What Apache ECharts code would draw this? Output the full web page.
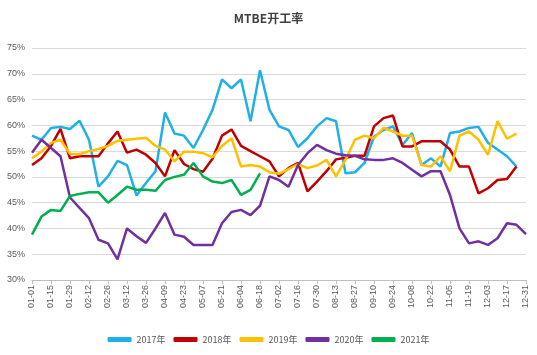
<!DOCTYPE html>
<html><head><meta charset="utf-8">
<script src="https://cdn.jsdelivr.net/npm/echarts@6/dist/echarts.min.js"></script>
<style>html,body{margin:0;padding:0;background:#fff}#c{width:537px;height:355px}</style>
</head><body><div id="c"></div>
<script>
const categories = ['01-01','01-08','01-15','01-22','01-29','02-05','02-12','02-19','02-26','03-05','03-12','03-19','03-26','04-02','04-09','04-16','04-23','04-30','05-07','05-14','05-21','05-28','06-04','06-11','06-18','06-25','07-02','07-09','07-16','07-23','07-30','08-06','08-13','08-20','08-27','09-03','09-10','09-17','09-24','10-01','10-08','10-15','10-22','10-29','11-05','11-12','11-19','11-26','12-03','12-10','12-17','12-24','12-31'];
const s2017 = [58.0,57.2,59.5,59.7,59.3,60.9,57.2,48.1,50.1,53.1,52.3,46.4,48.8,51.1,62.5,58.4,58.0,55.6,59.1,63.0,68.9,67.2,68.9,60.8,70.7,63.0,59.8,59.1,55.8,57.5,59.8,61.4,60.8,50.7,50.9,52.7,57.8,59.1,59.8,56.2,58.5,52.3,53.6,52.0,58.5,58.8,59.5,59.7,56.6,55.3,54.0,52.0];
const s2018 = [52.3,53.6,56.0,59.3,53.6,54.0,54.0,54.0,56.5,58.8,54.7,55.3,54.3,52.7,50.1,55.2,52.5,51.5,51.0,53.5,58.0,59.2,56.0,55.0,54.0,53.0,50.1,51.7,52.7,47.2,49.1,51.1,53.4,53.7,54.1,54.1,59.8,61.4,61.9,55.9,55.9,56.9,56.9,56.9,55.3,52.0,52.0,46.8,47.8,49.4,49.6,52.0];
const s2019 = [53.6,54.9,56.6,57.2,54.5,54.4,55.0,55.4,56.0,57.0,57.2,57.4,57.6,56.0,55.3,53.0,54.9,54.9,54.6,53.8,56.0,57.5,52.0,52.3,52.0,50.9,50.6,51.5,52.5,51.7,52.2,53.3,50.1,53.3,57.2,58.0,57.5,59.5,58.8,58.0,58.0,52.3,52.0,54.0,51.1,58.0,58.8,57.2,54.3,60.8,57.4,58.4];
const s2020 = [54.7,57.2,55.6,54.0,46.0,44.0,42.0,37.8,37.1,34.0,40.0,38.5,37.2,40.0,43.0,38.8,38.4,36.8,36.8,36.8,41.0,43.2,43.6,42.6,44.4,50.1,49.4,48.1,52.3,54.6,56.2,55.2,54.5,54.2,54.1,53.4,53.3,53.3,53.6,52.7,51.4,50.1,51.1,51.1,46.5,40.0,37.1,37.5,36.8,38.1,41.0,40.7,38.9];
const s2021 = [38.8,42.3,43.6,43.4,46.3,46.7,47.0,47.0,45.0,46.5,48.1,47.5,47.5,47.3,49.4,50.0,50.4,52.7,50.1,49.1,48.8,49.4,46.5,47.5,50.7];
const seriesNames = ['2017年','2018年','2019年','2020年','2021年'];
const seriesColors = ['#1fb0e6','#c00000','#ffc000','#7030a0','#00b050'];
const yTicks = {min:30, max:75, step:5};

const chart = echarts.init(document.getElementById('c'), null, {renderer:'canvas'});
const dataList = [s2017, s2018, s2019, s2020, s2021];
chart.setOption({
  backgroundColor:'#ffffff',
  animation:false,
  title:{text:'MTBE开工率', left:'center', top:7, textStyle:{fontSize:12, fontWeight:'bold', color:'#404040', fontFamily:'Noto Sans CJK SC'}},
  grid:{left:32, right:11, top:48, bottom:75},
  legend:{bottom:6, left:'center', itemWidth:24, itemHeight:5, itemGap:8, icon:'roundRect',
    textStyle:{fontSize:9, color:'#595959', fontFamily:'Noto Sans CJK SC'}, data:seriesNames},
  xAxis:{type:'category', data:categories, boundaryGap:false,
    axisLine:{lineStyle:{color:'#bfbfbf'}},
    axisTick:{interval:1, length:4, lineStyle:{color:'#bfbfbf'}},
    axisLabel:{interval:1, rotate:90, fontSize:9, color:'#595959', margin:5, fontFamily:'Liberation Sans'}},
  yAxis:{type:'value', min:yTicks.min, max:yTicks.max, interval:yTicks.step,
    axisLine:{show:false}, axisTick:{show:false},
    axisLabel:{formatter:'{value}%', fontSize:9, color:'#595959', margin:7, fontFamily:'Liberation Sans'},
    splitLine:{lineStyle:{color:'#d9d9d9', width:1}}},
  series: seriesNames.map((n,k)=>({name:n, type:'line', data:dataList[k], showSymbol:false, symbol:'none',
    lineStyle:{width:2.5, color:seriesColors[k]}, itemStyle:{color:seriesColors[k]}}))
});
</script></body></html>
